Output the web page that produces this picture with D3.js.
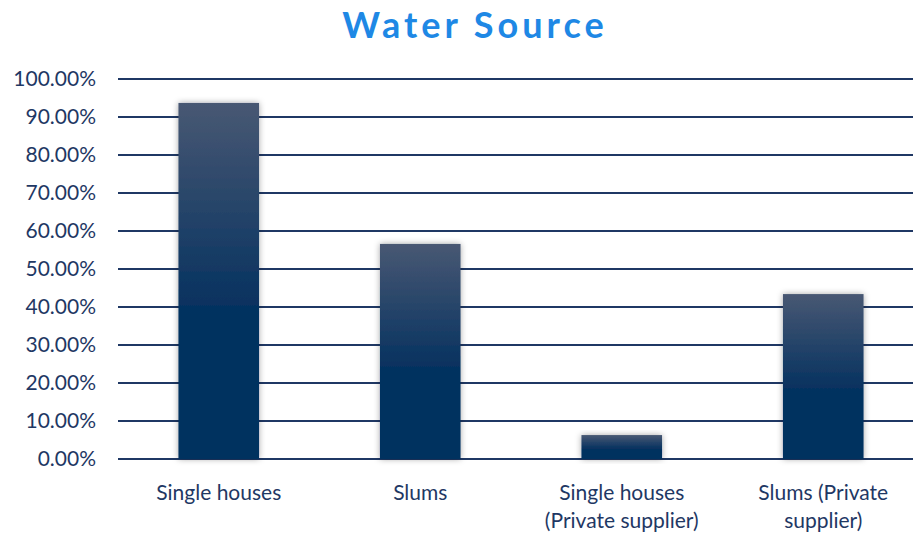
<!DOCTYPE html>
<html><head><meta charset="utf-8">
<script src="https://cdn.jsdelivr.net/npm/d3@7"></script>
<style>body{margin:0;background:#fff}svg{display:block}</style>
</head><body>
<script>
const categories = [["Single houses"], ["Slums"], ["Single houses", "(Private supplier)"], ["Slums (Private", "supplier)"]];
const values = [93.7, 56.6, 6.3, 43.4];
const yTicks = [0, 10, 20, 30, 40, 50, 60, 70, 80, 90, 100];
const title = "Water Source";

const W = 913, H = 533;
const svg = d3.select("body").append("svg").attr("width", W).attr("height", H);
const defs = svg.append("defs");
const grad = defs.append("linearGradient").attr("id", "bg").attr("x1", 0).attr("y1", 0).attr("x2", 0).attr("y2", 1);
grad.append("stop").attr("offset", "0").attr("stop-color", "#485873");
grad.append("stop").attr("offset", "0.6").attr("stop-color", "#03305f");
grad.append("stop").attr("offset", "1").attr("stop-color", "#03305f");
const f = defs.append("filter").attr("id", "sh").attr("x", "-20%").attr("y", "-20%").attr("width", "140%").attr("height", "140%");
f.append("feDropShadow").attr("dx", 0).attr("dy", 0).attr("stdDeviation", 3).attr("flood-color", "#000").attr("flood-opacity", 0.35);

const x = d3.scaleBand().domain(d3.range(values.length)).range([118, 924]).paddingInner(0.6).paddingOuter(0.3);
const y = d3.scaleLinear().domain([0, 100]).range([459, 79]);
const navy = "#1f3864";
const font = "Lato, 'Open Sans', sans-serif";

svg.append("text").attr("x", 475).attr("y", 38).attr("text-anchor", "middle")
  .attr("font-family", font).attr("font-weight", "bold").attr("font-size", 36)
  .attr("letter-spacing", 4).attr("fill", "#1e88e5").text(title);

const g = svg.append("g");
g.selectAll("line.grid").data(yTicks).join("line").attr("class", "grid")
  .attr("x1", 118).attr("x2", 924).attr("y1", d => y(d)).attr("y2", d => y(d))
  .attr("stroke", navy).attr("stroke-width", 2);

const yAxis = svg.append("g").attr("transform", "translate(96,0)")
  .call(d3.axisLeft(y).tickValues(yTicks).tickSize(0).tickPadding(0).tickFormat(d => d.toFixed(2) + "%"));
yAxis.select(".domain").remove();
yAxis.selectAll("text").attr("font-family", font).attr("font-size", 21).attr("fill", navy);

svg.selectAll("rect.bar").data(values).join("rect").attr("class", "bar")
  .attr("x", (d, i) => x(i)).attr("width", x.bandwidth())
  .attr("y", d => y(d)).attr("height", d => y(0) - y(d))
  .attr("fill", "url(#bg)").attr("filter", "url(#sh)");

const xl = svg.append("g").attr("transform", "translate(0,459)")
  .call(d3.axisBottom(x).tickSize(0).tickFormat(""));
xl.select(".domain").remove();
xl.selectAll(".tick").each(function(i) {
  const t = d3.select(this).append("text").attr("fill", navy).attr("font-family", font)
    .attr("font-size", 21).attr("text-anchor", "middle").attr("y", 41);
  categories[i].forEach((s, k) => t.append("tspan").attr("x", 0).attr("dy", k ? 28 : 0).text(s));
});
</script>
</body></html>
